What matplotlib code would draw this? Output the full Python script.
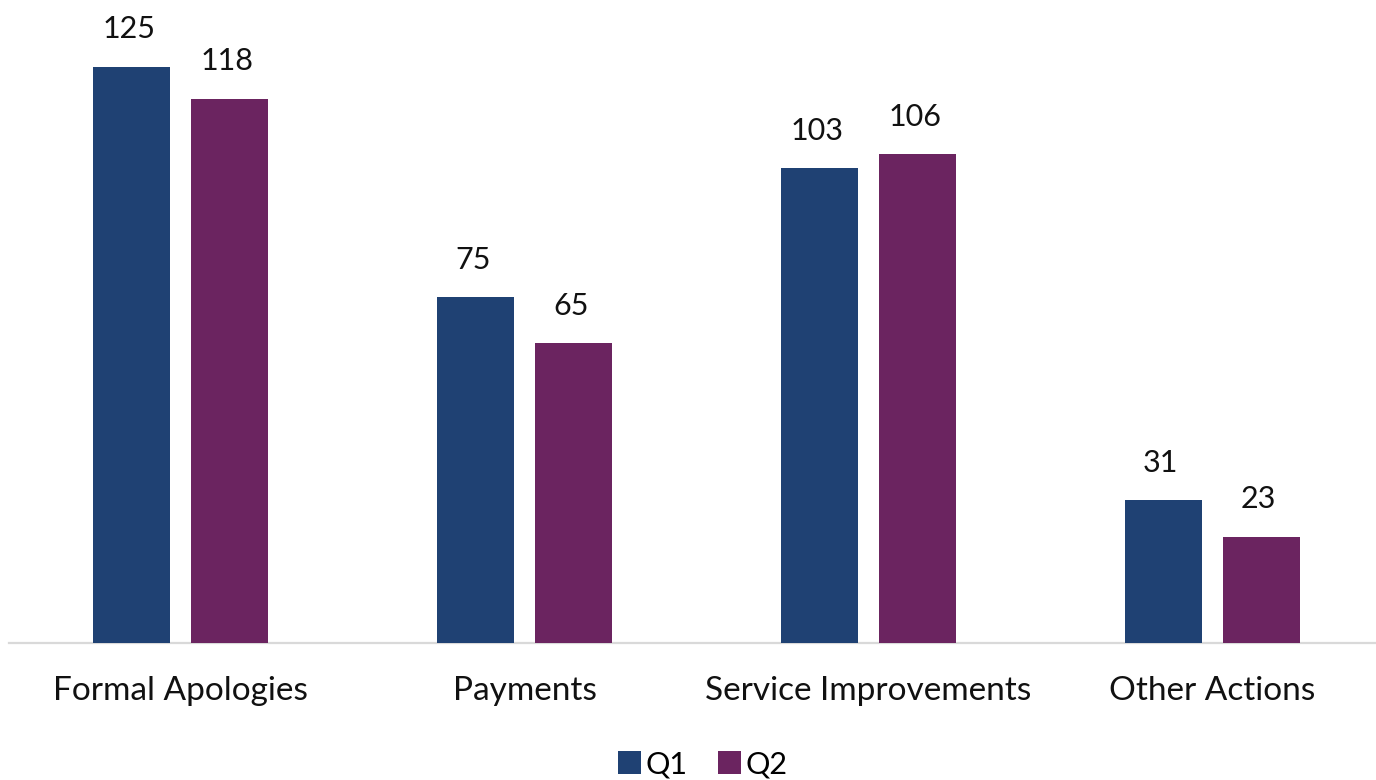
import matplotlib
matplotlib.use("Agg")
import matplotlib.pyplot as plt
import numpy as np

categories = ["Formal Apologies", "Payments", "Service Improvements", "Other Actions"]
series_names = ["Q1", "Q2"]
q1_values = [125, 75, 103, 31]
q2_values = [118, 65, 106, 23]
colors = ["#1F4173", "#6B2460"]

plt.rcParams["font.family"] = ["Lato", "DejaVu Sans"]

W, H = 1376, 780
fig = plt.figure(figsize=(W / 100, H / 100), dpi=100)
ax = fig.add_axes([8.5 / W, 137 / H, 1376 / W, 643 / H])

x = np.arange(len(categories))
width = 0.224
offset = 0.1424

for vals, name, col, sgn in [(q1_values, series_names[0], colors[0], -1),
                             (q2_values, series_names[1], colors[1], 1)]:
    bars = ax.bar(x + sgn * offset, vals, width, color=col, label=name, zorder=3)
    for b, v in zip(bars, vals):
        ax.annotate(str(v), (b.get_x() + b.get_width() / 2, v),
                    xytext=(-2, 17), textcoords="offset points",
                    ha="center", va="bottom", fontsize=22, color="#111111")

ax.set_xlim(-0.5, len(categories) - 0.5)
ax.set_ylim(0, 139.5)
ax.set_xticks(x)
ax.set_xticklabels(categories, fontsize=24, color="#111111")
ax.tick_params(axis="x", length=0, pad=24)
ax.set_yticks([])
for s in ["top", "right", "left"]:
    ax.spines[s].set_visible(False)
ax.spines["bottom"].set_color("#D9D9D9")
ax.spines["bottom"].set_linewidth(1.6)
ax.spines["bottom"].set_zorder(2)

fig.legend(loc="center", bbox_to_anchor=(703 / W, 1 - 764 / H), ncol=2,
           frameon=False, fontsize=22, handlelength=0.75, handleheight=0.75,
           handletextpad=0.15, columnspacing=1.0, borderpad=0)

fig.savefig("out.png", dpi=100, facecolor="white")
